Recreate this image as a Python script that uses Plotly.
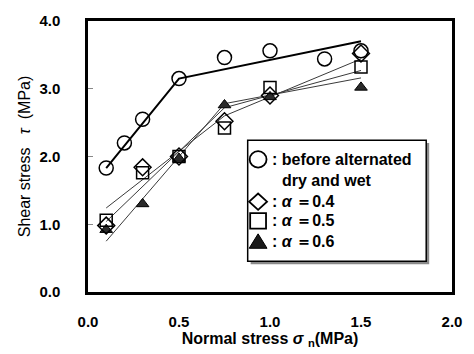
import plotly.graph_objects as go

# Measured shear strength (MPa) against normal stress (MPa)
sigma_before = [0.1, 0.2, 0.3, 0.5, 0.75, 1.0, 1.3, 1.5]
tau_before = [1.83, 2.20, 2.55, 3.15, 3.46, 3.56, 3.44, 3.56]

sigma_alpha = [0.1, 0.3, 0.5, 0.75, 1.0, 1.5]
tau_a04 = [0.98, 1.84, 2.00, 2.52, 2.90, 3.52]
tau_a05 = [1.06, 1.76, 2.00, 2.42, 3.02, 3.32]
tau_a06 = [0.92, 1.30, 1.97, 2.76, 2.88, 3.02]

# Bilinear strength envelopes (end points and break point)
env_before_x = [0.1, 0.5, 1.5]
env_before_y = [1.83, 3.15, 3.70]
env_alpha_x = [0.1, 0.75, 1.5]
env_a04_y = [1.24, 2.60, 3.44]
env_a05_y = [1.04, 2.72, 3.27]
env_a06_y = [0.75, 2.78, 3.16]

x_ticks = [0.0, 0.5, 1.0, 1.5, 2.0]
y_ticks = [0.0, 1.0, 2.0, 3.0, 4.0]

fig = go.Figure()

# envelopes
for yy in (env_a04_y, env_a05_y, env_a06_y):
    fig.add_trace(go.Scatter(x=env_alpha_x, y=yy, mode="lines",
                             line=dict(color="#3a3a3a", width=1), showlegend=False))
fig.add_trace(go.Scatter(x=env_before_x, y=env_before_y, mode="lines",
                         line=dict(color="black", width=2), showlegend=False))

# measured points
fig.add_trace(go.Scatter(x=sigma_alpha, y=tau_a06, mode="markers",
                         marker=dict(symbol="triangle-up", size=11, color="#2a2a2a",
                                     line=dict(color="black", width=1)), showlegend=False))
fig.add_trace(go.Scatter(x=sigma_alpha, y=tau_a05, mode="markers",
                         marker=dict(symbol="square-open", size=12, color="black",
                                     line=dict(width=1.5)), showlegend=False))
fig.add_trace(go.Scatter(x=sigma_alpha, y=tau_a04, mode="markers",
                         marker=dict(symbol="diamond-open", size=13, color="black",
                                     line=dict(width=1.5)), showlegend=False))
fig.add_trace(go.Scatter(x=sigma_before, y=tau_before, mode="markers",
                         marker=dict(symbol="circle-open", size=14, color="black",
                                     line=dict(width=1.5)), showlegend=False))

tick_font = dict(family="Liberation Sans, Arial, sans-serif", size=15, color="black", weight="bold")
xtitle_font = dict(family="Liberation Sans, Arial, sans-serif", size=16, color="black", weight="bold")
ytitle_font = dict(family="Liberation Sans, Arial, sans-serif", size=16, color="black")

fig.update_xaxes(range=[0, 2], tickvals=x_ticks, ticktext=[f"{v:.1f}" for v in x_ticks],
                 showgrid=False, zeroline=False, showline=True, linecolor="black",
                 linewidth=2.5, mirror=True, ticks="", tickfont=tick_font,
                 ticklabelstandoff=14,
                 title=dict(text="Normal stress <i>σ</i> <sub>n</sub>(MPa)", font=xtitle_font,
                            standoff=1))
fig.update_yaxes(range=[0, 4], tickvals=y_ticks, ticktext=[f"{v:.1f}" for v in y_ticks],
                 showgrid=False, zeroline=False, showline=True, linecolor="black",
                 linewidth=2.5, mirror=True, ticks="inside", ticklen=5, tickcolor="#888",
                 tickwidth=1, tickfont=tick_font, ticklabelstandoff=22,
                 title=dict(text="Shear stress   <i>τ</i>  (MPa)", font=ytitle_font, standoff=5))

# key box with drop shadow (pixel helpers -> paper fractions of the plot area)
W, H = 367.0, 282.0
def px(xp):
    return (xp - 88) / W
def py(yp):
    return (301 - yp) / H

fig.add_shape(type="rect", xref="paper", yref="paper",
              x0=px(252), x1=px(432), y0=py(272), y1=py(146),
              fillcolor="#8a8a8a", line=dict(width=0), layer="above")
fig.add_shape(type="rect", xref="paper", yref="paper",
              x0=px(249), x1=px(429), y0=py(269), y1=py(143),
              fillcolor="white", line=dict(color="black", width=1.5), layer="above")

# key symbols
def poly(points):
    return "M " + " L ".join(f"{px(a):.5f},{py(b):.5f}" for a, b in points) + " Z"

key_line = dict(color="black", width=1.8)
fig.add_shape(type="circle", xref="paper", yref="paper",
              x0=px(251), x1=px(268), y0=py(171.5), y1=py(154.5),
              line=key_line, fillcolor="white", layer="above")
fig.add_shape(type="path", xref="paper", yref="paper",
              path=poly([(250.5, 207), (259.5, 198.5), (268.5, 207), (259.5, 215.5)]),
              line=key_line, fillcolor="white", layer="above")
fig.add_shape(type="rect", xref="paper", yref="paper",
              x0=px(251.5), x1=px(267.5), y0=py(235), y1=py(219),
              line=key_line, fillcolor="white", layer="above")
fig.add_shape(type="path", xref="paper", yref="paper",
              path=poly([(250.5, 255.5), (268.5, 255.5), (259.5, 240.5)]),
              line=dict(color="black", width=1), fillcolor="#1a1a1a", layer="above")

key_font = dict(family="Liberation Sans, Arial, sans-serif", size=16, color="black", weight="bold")
rows = [
    (": before alternated", 163, 273),
    ("dry and wet", 185, 283),
    (": <i>α</i> ＝0.4", 207, 273),
    (": <i>α</i> ＝0.5", 227, 273),
    (": <i>α</i> ＝0.6", 248, 273),
]
for txt, yp, xp in rows:
    fig.add_annotation(xref="paper", yref="paper", x=px(xp), y=py(yp),
                       text=txt, showarrow=False, font=key_font,
                       xanchor="left", yanchor="middle", borderpad=0)

fig.update_layout(width=474, height=354, margin=dict(l=88, r=19, t=19, b=53),
                  plot_bgcolor="white", paper_bgcolor="white", showlegend=False)

fig.write_html("out.html")
